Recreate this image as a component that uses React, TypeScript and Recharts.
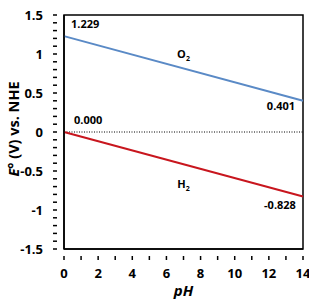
import React from 'react';
import {
  LineChart,
  Line,
  XAxis,
  YAxis,
  ReferenceLine,
  ReferenceArea,
  ReferenceDot,
  LabelList,
} from 'recharts';

// water stability window: redox potentials vs pH
const phValues = [0, 14];
const o2Potential = [1.229, 0.401];
const h2Potential = [0, -0.828];

const xMajorTicks = [0, 2, 4, 6, 8, 10, 12, 14];
const yMajorTicks = [-1.5, -1, -0.5, 0, 0.5, 1, 1.5];

const xTicks: number[] = [];
for (let i = 0; i <= 14; i++) xTicks.push(i);
const yTicks: number[] = [];
for (let i = -15; i <= 15; i++) yTicks.push(i / 10);

const data = phValues.map((ph, i) => ({ ph, o2: o2Potential[i], h2: h2Potential[i] }));

const FONT = '"Open Sans", Lato, sans-serif';

const XTick = (props: any) => {
  const { x, y, payload } = props;
  const major = xMajorTicks.includes(payload.value);
  return (
    <g>
      <line x1={x} x2={x} y1={y - 1} y2={y + 3} stroke="#000" strokeWidth={1.5} />
      {major && (
        <text x={x} y={y + 21} textAnchor="middle" fontSize={13} fontWeight={700} fontFamily={FONT} fill="#000">
          {payload.value}
        </text>
      )}
    </g>
  );
};

const YTick = (props: any) => {
  const { x, y, payload } = props;
  const v = Math.round(payload.value * 10) / 10;
  const major = yMajorTicks.includes(v);
  return (
    <g>
      <line x1={x - 3} x2={x + 1} y1={y} y2={y} stroke="#000" strokeWidth={1.5} />
      {major && (
        <text x={x - 13} y={y + 4.5} textAnchor="end" fontSize={13} fontWeight={700} fontFamily={FONT} fill="#000">
          {v}
        </text>
      )}
    </g>
  );
};

const YTitle = (props: any) => {
  const { viewBox } = props;
  const cx = 13;
  const cy = viewBox.y + viewBox.height / 2 - 3;
  return (
    <text
      x={cx}
      y={cy}
      transform={`rotate(-90 ${cx} ${cy})`}
      textAnchor="middle"
      dominantBaseline="central"
      fontSize={14.5}
      fontWeight={700}
      fontFamily={FONT}
      fill="#000"
    >
      <tspan fontStyle="italic">E</tspan>
      <tspan>° (V) vs. NHE</tspan>
    </text>
  );
};

const valueLabel = (dxStart: number, dyStart: number, dxEnd: number, dyEnd: number) => (props: any) => {
  const { x, y, value, index } = props;
  const first = index === 0;
  return (
    <text
      x={x + (first ? dxStart : dxEnd)}
      y={y + (first ? dyStart : dyEnd)}
      textAnchor={first ? 'start' : 'middle'}
      fontSize={11}
      fontWeight={700}
      fontFamily={FONT}
      fill="#000"
    >
      {value.toFixed(3)}
    </text>
  );
};

const speciesLabel = (name: string) => (props: any) => {
  const { viewBox } = props;
  const cx = viewBox.x + (viewBox.width || 0) / 2;
  const cy = viewBox.y + (viewBox.height || 0) / 2;
  return (
    <text x={cx} y={cy} textAnchor="middle" fontSize={11} fontWeight={700} fontFamily={FONT} fill="#000">
      {name}
      <tspan fontSize={7} dy={3}>2</tspan>
    </text>
  );
};

export default function App() {
  return (
    <div style={{ position: 'absolute', left: 0, top: 0, width: 309, height: 299, background: '#fff' }}>
      <LineChart width={309} height={299} data={data} margin={{ top: 15, right: 6, left: 0, bottom: 0 }}>
        <ReferenceArea x1={0} x2={14} y1={-1.5} y2={1.5} fill="none" stroke="#000" strokeWidth={1.5} ifOverflow="visible" />
        <XAxis
          dataKey="ph"
          type="number"
          domain={[0, 14]}
          ticks={xTicks}
          interval={0}
          tick={<XTick />}
          tickLine={false}
          axisLine={{ stroke: '#000', strokeWidth: 1.5 }}
          height={50}
          label={{
            value: 'pH',
            position: 'insideBottom',
            offset: 3,
            style: { fontSize: 15, fontWeight: 700, fontStyle: 'italic', fontFamily: FONT, fill: '#000' },
          }}
        />
        <YAxis
          type="number"
          domain={[-1.5, 1.5]}
          ticks={yTicks}
          interval={0}
          tick={<YTick />}
          tickLine={false}
          axisLine={{ stroke: '#000', strokeWidth: 1.5 }}
          width={64}
          label={<YTitle />}
        />
        <ReferenceLine y={0} stroke="#000" strokeWidth={1} strokeDasharray="1 1.5" />
        <Line dataKey="o2" stroke="#5a8ac6" strokeWidth={2} dot={false} isAnimationActive={false}>
          <LabelList dataKey="o2" content={valueLabel(7, -8, -22, 9)} />
        </Line>
        <Line dataKey="h2" stroke="#c8161e" strokeWidth={2} dot={false} isAnimationActive={false}>
          <LabelList dataKey="h2" content={valueLabel(10, -8, -23, 12)} />
        </Line>
        <ReferenceDot x={7.0} y={0.95} r={0} fill="none" stroke="none" label={speciesLabel('O')} />
        <ReferenceDot x={7.0} y={-0.72} r={0} fill="none" stroke="none" label={speciesLabel('H')} />
      </LineChart>
    </div>
  );
}
